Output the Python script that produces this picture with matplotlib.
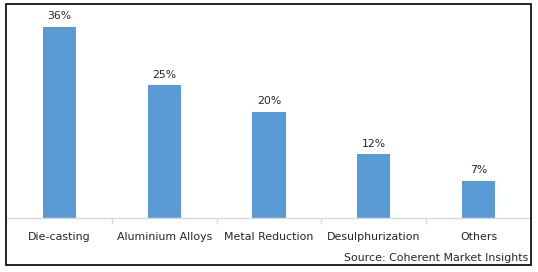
import matplotlib
matplotlib.use("Agg")
import matplotlib.pyplot as plt
from matplotlib.patches import Rectangle

categories = ["Die-casting", "Aluminium Alloys", "Metal Reduction", "Desulphurization", "Others"]
values = [36, 25, 20, 12, 7]
value_labels = ["36%", "25%", "20%", "12%", "7%"]
source = "Source: Coherent Market Insights"

W, H = 538, 272
fig = plt.figure(figsize=(W / 100, H / 100), dpi=100)
plt.rcParams['font.family'] = ['DejaVu Sans']

left, right, base, top = 7, 531, 218, 10
ax = fig.add_axes([left / W, (H - base) / H, (right - left) / W, (base - top) / H])
x = list(range(len(categories)))
ax.bar(x, values, width=0.315, color="#5B9BD5")
ax.set_xlim(-0.5, len(categories) - 0.5)
ax.set_ylim(0, 36 * (base - top) / (base - 27))
for xi, v, lab in zip(x, values, value_labels):
    ax.annotate(lab, (xi, v), xytext=(0, 4), textcoords="offset points",
                ha="center", va="bottom", fontsize=7.8, color="#262626")
for s in ["top", "left", "right"]:
    ax.spines[s].set_visible(False)
ax.spines["bottom"].set_color("#d9d9d9")
ax.spines["bottom"].set_linewidth(1.0)
ax.set_yticks([])
ax.set_xticks([i + 0.5 for i in range(len(categories) - 1)], minor=False)
ax.set_xticklabels([])
ax.tick_params(axis="x", which="major", length=4, color="#d9d9d9", width=1.0)
ax.set_xticks(x, minor=True)
ax.set_xticklabels(categories, minor=True)
ax.tick_params(axis="x", which="minor", length=0, pad=10, labelsize=7.9, labelcolor="#262626")

fig.text(528 / W, (H - 258) / H, source, ha="right", va="center", fontsize=7.9, color="#262626")
fig.patches.append(Rectangle((6 / W, 7 / H), (531 - 6) / W, (268 - 7) / H,
                             transform=fig.transFigure, fill=False, edgecolor="black", linewidth=1.2))

fig.savefig("out.png", dpi=100)
